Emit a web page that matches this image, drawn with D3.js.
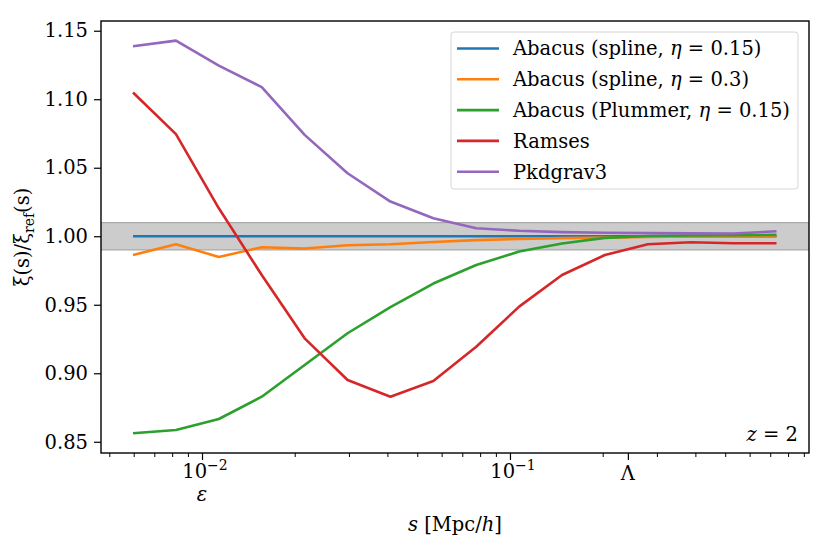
<!DOCTYPE html>
<html>
<head>
<meta charset="utf-8">
<script src="https://cdn.jsdelivr.net/npm/d3@7"></script>
<style>
  body { margin: 0; background: #fff; }
  svg { display: block; }
  text { font-family: "DejaVu Serif", serif; fill: #000; }
</style>
</head>
<body>
<div id="chart"></div>
<script>
// separation s [Mpc/h]
const sValues = [0.00597, 0.00823, 0.01134, 0.01563, 0.02154, 0.02969, 0.04091, 0.05638,
                 0.0777, 0.1071, 0.1476, 0.2033, 0.2803, 0.3863, 0.5323, 0.7337];

const splineEta015 = [1, 1, 1, 1, 1, 1, 1, 1, 1, 1, 1, 1, 1, 1, 1, 1];
const splineEta03 = [0.9863, 0.9942, 0.9849, 0.992, 0.991, 0.9934, 0.9942, 0.9958,
                     0.9972, 0.998, 0.9986, 0.999, 0.9995, 0.9998, 0.9999, 1.0];
const plummer = [0.8562, 0.8586, 0.8666, 0.8829, 0.906, 0.9292, 0.9482, 0.9655,
                 0.979, 0.9888, 0.9947, 0.9988, 1.0002, 1.0006, 1.0008, 1.001];
const ramses = [1.1049, 1.0745, 1.0204, 0.9717, 0.9255, 0.8951, 0.8829, 0.8943,
                0.9194, 0.9486, 0.9717, 0.9863, 0.9942, 0.9956, 0.9949, 0.9949];
const pkdgrav = [1.1387, 1.1428, 1.1245, 1.1088, 1.074, 1.046, 1.0253, 1.0131,
                 1.0058, 1.004, 1.003, 1.0025, 1.0023, 1.0021, 1.002, 1.0036];

const seriesNames = ["Abacus (spline, η = 0.15)", "Abacus (spline, η = 0.3)",
                     "Abacus (Plummer, η = 0.15)", "Ramses", "Pkdgrav3"];
const seriesColors = ["#1f77b4", "#ff7f0e", "#2ca02c", "#d62728", "#9467bd"];
const yTicks = [0.85, 0.90, 0.95, 1.00, 1.05, 1.10, 1.15];
const band = [0.99, 1.01];
const epsilon = 0.01;
const lambda = 0.2415;

const width = 830, height = 552;
const margin = {top: 21, right: 21, bottom: 99, left: 101};
const fs = 19.5;

const svg = d3.select("#chart").append("svg")
    .attr("width", width)
    .attr("height", height);

const x = d3.scaleLog()
    .domain([Math.pow(10, -2.328), Math.pow(10, -0.029)])
    .range([margin.left, width - margin.right]);

const y = d3.scaleLinear()
    .domain([0.8418, 1.1571])
    .range([height - margin.bottom, margin.top]);

const series = [splineEta015, splineEta03, plummer, ramses, pkdgrav].map((vals, i) => ({
    name: seriesNames[i],
    color: seriesColors[i],
    points: vals.map((v, j) => [sValues[j], v])
}));

// 1% band
svg.append("rect")
    .attr("x", margin.left)
    .attr("width", width - margin.right - margin.left)
    .attr("y", y(band[1]))
    .attr("height", y(band[0]) - y(band[1]))
    .attr("fill", "#cccccc");
[band[0], band[1]].forEach(b => {
    svg.append("line")
        .attr("x1", margin.left).attr("x2", width - margin.right)
        .attr("y1", y(b)).attr("y2", y(b))
        .attr("stroke", "#aaaaaa").attr("stroke-width", 1.2);
});

const line = d3.line()
    .x(d => x(d[0]))
    .y(d => y(d[1]));

svg.append("g")
    .selectAll("path")
    .data(series)
    .enter()
    .append("path")
    .attr("d", d => line(d.points))
    .attr("fill", "none")
    .attr("stroke", d => d.color)
    .attr("stroke-width", 2.6)
    .attr("stroke-linejoin", "round");

// axes
const xMinor = [];
for (let e = -3; e <= 0; e++) {
    for (let m = 1; m < 10; m++) {
        const v = m * Math.pow(10, e);
        if (v >= x.domain()[0] && v <= x.domain()[1]) xMinor.push(v);
    }
}

svg.append("g")
    .attr("transform", `translate(0,${height - margin.bottom})`)
    .call(d3.axisBottom(x).tickValues(xMinor).tickSize(4).tickFormat(""))
    .call(g => g.select(".domain").remove())
    .call(g => g.selectAll("line").attr("stroke-width", 1));

svg.append("g")
    .attr("transform", `translate(0,${height - margin.bottom})`)
    .call(d3.axisBottom(x).tickValues([0.01, 0.1, lambda]).tickSize(7).tickFormat(""))
    .call(g => g.select(".domain").remove())
    .call(g => g.selectAll("line").attr("stroke-width", 1.2));

const xLabelY = height - margin.bottom + 25;
[[0.01, "10", "−2"], [0.1, "10", "−1"]].forEach(([v, b, e]) => {
    const t = svg.append("text")
        .attr("x", x(v) + 3)
        .attr("y", xLabelY)
        .attr("text-anchor", "middle")
        .attr("font-size", fs);
    t.append("tspan").text(b);
    t.append("tspan").attr("dy", -8).attr("font-size", 14).text(e);
});
svg.append("text")
    .attr("x", x(lambda)).attr("y", xLabelY + 2)
    .attr("text-anchor", "middle").attr("font-size", fs)
    .text("Λ");
svg.append("text")
    .attr("x", x(epsilon)).attr("y", xLabelY + 23)
    .attr("text-anchor", "middle").attr("font-size", fs)
    .attr("font-style", "italic")
    .text("ε");

svg.append("g")
    .attr("transform", `translate(${margin.left},0)`)
    .call(d3.axisLeft(y).tickValues(yTicks).tickSize(7).tickPadding(6)
        .tickFormat(d3.format(".2f")))
    .call(g => g.select(".domain").remove())
    .call(g => g.selectAll("line").attr("stroke-width", 1.2))
    .call(g => g.selectAll("text")
        .attr("font-family", "DejaVu Serif")
        .attr("font-size", fs));

// frame
svg.append("rect")
    .attr("x", margin.left).attr("y", margin.top)
    .attr("width", width - margin.right - margin.left)
    .attr("height", height - margin.bottom - margin.top)
    .attr("fill", "none").attr("stroke", "#000").attr("stroke-width", 1.4);

// axis titles
const xt = svg.append("text")
    .attr("x", (margin.left + width - margin.right) / 2)
    .attr("y", 531)
    .attr("text-anchor", "middle")
    .attr("font-size", fs);
xt.append("tspan").attr("font-style", "italic").text("s");
xt.append("tspan").text(" [Mpc/");
xt.append("tspan").attr("font-style", "italic").text("h");
xt.append("tspan").text("]");

const yt = svg.append("text")
    .attr("transform", `translate(29,${(margin.top + height - margin.bottom) / 2}) rotate(-90)`)
    .attr("text-anchor", "middle")
    .attr("font-family", "DejaVu Sans")
    .attr("font-size", fs);
yt.append("tspan").text("ξ(s)/ξ");
yt.append("tspan").attr("dy", 5).attr("font-size", 14).text("ref");
yt.append("tspan").attr("dy", -5).text("(s)");

// redshift label
svg.append("text")
    .attr("x", width - margin.right - 11)
    .attr("y", height - margin.bottom - 12)
    .attr("text-anchor", "end")
    .attr("font-size", fs)
    .html('<tspan font-style="italic">z</tspan> = 2');

// legend
const legend = svg.append("g").attr("transform", "translate(451,32)");
legend.append("rect")
    .attr("width", 347).attr("height", 157)
    .attr("rx", 3)
    .attr("fill", "#fff").attr("fill-opacity", 0.8)
    .attr("stroke", "#d6d6d6").attr("stroke-width", 1);
const items = legend.selectAll("g.item")
    .data(series)
    .enter()
    .append("g")
    .attr("transform", (d, i) => `translate(0,${16.5 + i * 30.8})`);
items.append("line")
    .attr("x1", 6).attr("x2", 48)
    .attr("stroke", d => d.color).attr("stroke-width", 2.6);
items.append("text")
    .attr("x", 62).attr("dy", "0.35em")
    .attr("font-size", fs)
    .each(function (d) {
        const t = d3.select(this);
        const parts = d.name.split("η");
        t.append("tspan").text(parts[0]);
        if (parts.length > 1) {
            t.append("tspan").attr("font-style", "italic").text("η");
            t.append("tspan").text(parts[1]);
        }
    });
</script>
</body>
</html>
